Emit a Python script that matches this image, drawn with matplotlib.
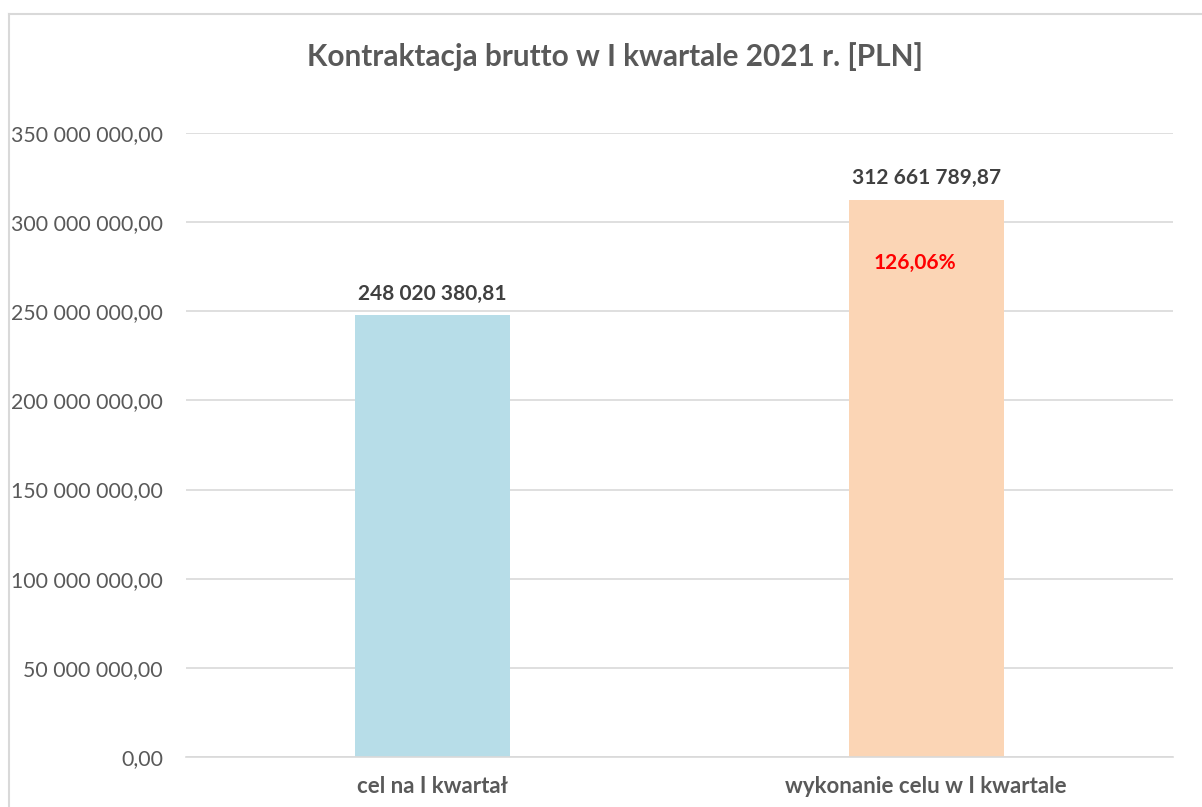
import matplotlib.pyplot as plt
from matplotlib.lines import Line2D
from matplotlib.ticker import FuncFormatter

# dane
kategorie = ['cel na I kwartał', 'wykonanie celu w I kwartale']
wartosci = [248020380.81, 312661789.87]
kolory = ['#B7DDE8', '#FBD5B5']
tytul = 'Kontraktacja brutto w I kwartale 2021 r. [PLN]'

def fmt_pl(v, pos=None):
    # format polski: spacja jako separator tysiecy, przecinek dziesietny
    s = f'{v:,.2f}'
    return s.replace(',', ' ').replace('.', ',')

plt.rcParams['font.family'] = ['Lato', 'DejaVu Sans']

fig = plt.figure(figsize=(12.02, 8.07), dpi=100)
ax = fig.add_axes([186 / 1202, 1 - 757 / 807, (1173 - 186) / 1202, (757 - 133) / 807])

x = range(len(kategorie))
ax.bar(x, wartosci, width=0.314, color=kolory, zorder=2)

ax.set_xlim(-0.5, 1.5)
ax.set_ylim(0, 350000000)
ax.set_yticks(range(0, 350000001, 50000000))
ax.yaxis.set_major_formatter(FuncFormatter(fmt_pl))
ax.set_xticks(list(x))
ax.set_xticklabels(kategorie, fontsize=16, fontweight='bold', color='#595959')
ax.tick_params(axis='y', labelsize=15.3, labelcolor='#595959', length=0, pad=16.5)
ax.tick_params(axis='x', length=0, pad=14)
ax.grid(axis='y', color='#D9D9D9', linewidth=1.2, zorder=0)
for s in ['top', 'right', 'left']:
    ax.spines[s].set_visible(False)
ax.spines['bottom'].set_color('#D9D9D9')
ax.spines['bottom'].set_linewidth(1.2)

# etykiety wartosci
for i, v in enumerate(wartosci):
    ax.annotate(fmt_pl(v), (i, v), xytext=(0, 8), textcoords='offset points',
                ha='center', va='bottom', fontsize=15, fontweight='bold', color='#404040')

# procent wykonania
proc = wartosci[1] / wartosci[0] * 100
ax.annotate(fmt_pl(proc) + '%', (1, wartosci[1]), xytext=(-8, -46), textcoords='offset points',
            ha='center', va='center', fontsize=15, fontweight='bold', color='#FF0000')

fig.text(615 / 1202, 1 - 57 / 807, tytul, ha='center', va='center',
         fontsize=21.4, fontweight='bold', color='#595959')

# ramka wykresu
fig.add_artist(Line2D([9 / 1202, 9 / 1202], [0, 1 - 14 / 807], transform=fig.transFigure,
                      color='#D9D9D9', linewidth=1.5))
fig.add_artist(Line2D([9 / 1202, 1], [1 - 14 / 807, 1 - 14 / 807], transform=fig.transFigure,
                      color='#D9D9D9', linewidth=1.5))

plt.savefig('out.png', dpi=100)
